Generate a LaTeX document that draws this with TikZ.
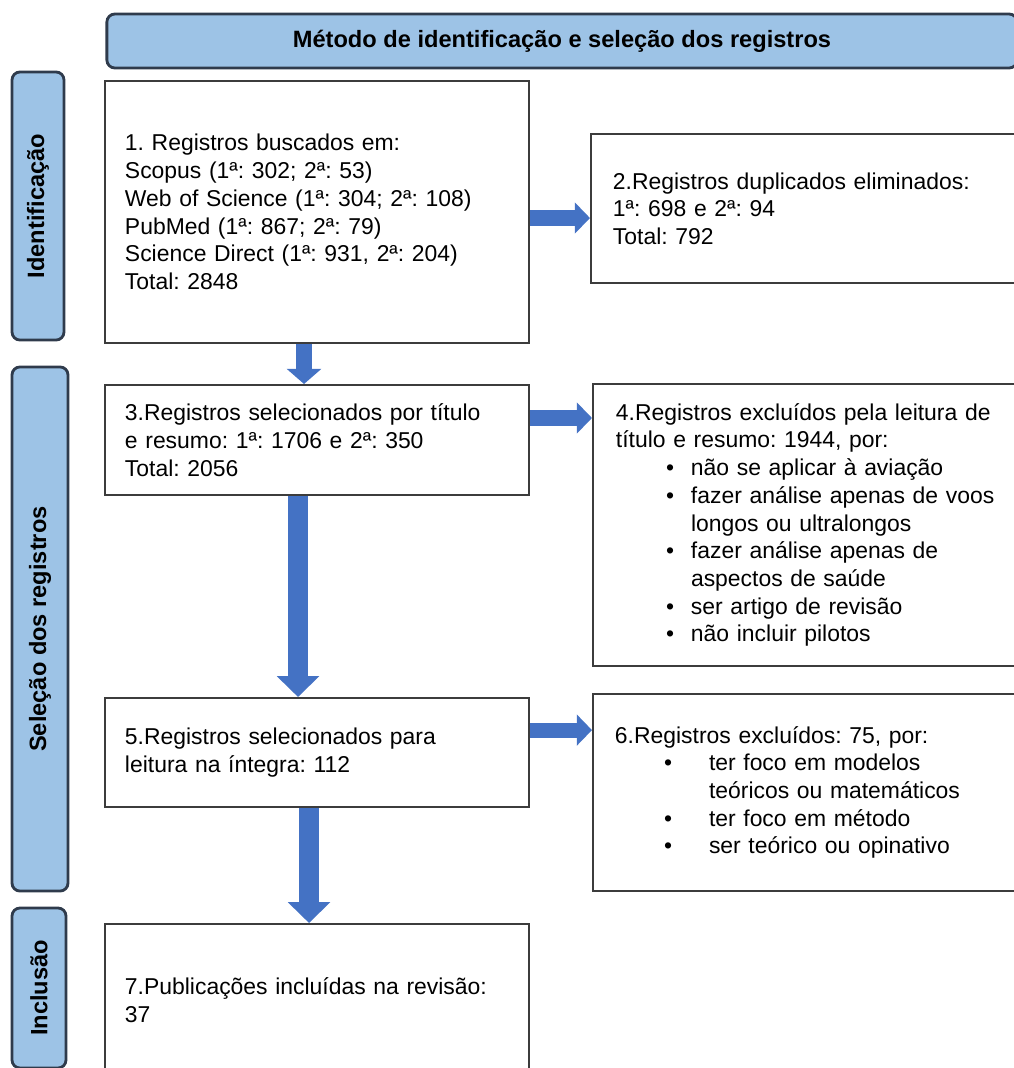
\documentclass[tikz,border=0pt]{standalone}
\usepackage{fontspec}
\setmainfont{Liberation Sans}
\usetikzlibrary{arrows.meta,positioning}
\frenchspacing

\definecolor{stageblue}{HTML}{9DC3E6}
\definecolor{stageedge}{HTML}{2F3B4C}
\definecolor{flowblue}{HTML}{4472C4}
\definecolor{boxedge}{HTML}{3C3C3C}

\newcommand\boxfont{\fontsize{16.3}{19.7}\selectfont}
\newcommand\stagefont{\fontsize{16.8}{19}\selectfont\bfseries}
% bullet line: indent, gap to text, text
\newcommand\bitem[3]{\hspace*{#1}\makebox[#2][l]{\textbullet}#3}

\begin{document}
\begin{tikzpicture}[x=0.025cm, y=-0.025cm,
    stage/.style={draw=stageedge, fill=stageblue, line width=2pt,
        rounded corners=0.2cm, font=\stagefont, inner sep=0pt},
    recbox/.style={draw=boxedge, line width=1.4pt, anchor=north west,
        align=left, font=\boxfont, inner ysep=0pt},
    flow/.style={draw=flowblue, line width=0.42cm,
        -{Triangle[width=0.85cm, length=0.38cm]}},
    flow big/.style={draw=flowblue, line width=0.5cm,
        -{Triangle[width=1.03cm, length=0.52cm]}},
    flow side/.style={draw=flowblue, line width=0.38cm,
        -{Triangle[width=0.76cm, length=0.38cm]}}]

    \useasboundingbox (0,0) rectangle (1014,1068);

    % Header
    \node[stage, minimum width=22.75cm, minimum height=1.35cm]
        (head) at (562,41) {Método de identificação e seleção dos registros};

    % Stage labels on the left
    \node[stage, rotate=90, minimum width=6.7cm, minimum height=1.3cm]
        (ident) at (38,206) {Identificação};
    \node[stage, rotate=90, minimum width=13.1cm, minimum height=1.4cm]
        (selec) at (40,629) {Seleção dos registros};
    \node[stage, rotate=90, minimum width=4.0cm, minimum height=1.35cm]
        (inclu) at (39,988) {Inclusão};

    % Record boxes
    \node[recbox, inner xsep=0.5cm, text width=9.6cm, minimum height=6.55cm]
        (b1) at (104,80) {1. Registros buscados em:\\
        Scopus (1ª: 302; 2ª: 53)\\
        Web of Science (1ª: 304; 2ª: 108)\\
        PubMed (1ª: 867; 2ª: 79)\\
        Science Direct (1ª: 931, 2ª: 204)\\
        Total: 2848};
    \node[recbox, inner xsep=0.55cm, text width=9.9cm, minimum height=3.725cm]
        (b2) at (590,133) {2.Registros duplicados eliminados:\\
        1ª: 698 e 2ª: 94\\
        Total: 792};
    \node[recbox, inner xsep=0.5cm, text width=9.6cm, minimum height=2.75cm]
        (b3) at (104,384) {3.Registros selecionados por título\\
        e resumo: 1ª: 1706 e 2ª: 350\\
        Total: 2056};
    \node[recbox, inner xsep=0.575cm, text width=9.8cm, minimum height=7.05cm]
        (b4) at (592,383) {4.Registros excluídos pela leitura de\\
        título e resumo: 1944, por:\\
        \bitem{1.25cm}{0.625cm}{não se aplicar à aviação}\\
        \bitem{1.25cm}{0.625cm}{fazer análise apenas de voos}\\
        \hspace*{1.875cm}longos ou ultralongos\\
        \bitem{1.25cm}{0.625cm}{fazer análise apenas de}\\
        \hspace*{1.875cm}aspectos de saúde\\
        \bitem{1.25cm}{0.625cm}{ser artigo de revisão}\\
        \bitem{1.25cm}{0.625cm}{não incluir pilotos}};
    \node[recbox, inner xsep=0.5cm, text width=9.6cm, minimum height=2.725cm]
        (b5) at (104,697) {5.Registros selecionados para\\
        leitura na íntegra: 112};
    \node[recbox, inner xsep=0.55cm, text width=9.85cm, minimum height=4.925cm]
        (b6) at (592,693) {6.Registros excluídos: 75, por:\\
        \bitem{1.225cm}{1.125cm}{ter foco em modelos}\\
        \hspace*{2.35cm}teóricos ou matemáticos\\
        \bitem{1.225cm}{1.125cm}{ter foco em método}\\
        \bitem{1.225cm}{1.125cm}{ser teórico ou opinativo}};
    \node[recbox, inner xsep=0.5cm, text width=9.6cm, minimum height=3.8cm]
        (b7) at (104,923) {7.Publicações incluídas na revisão:\\
        37};

    % Flow arrows
    \draw[flow] ([xshift=-0.325cm]b1.south) -- ([xshift=-0.325cm]b1.south |- b3.north);
    \draw[flow big] ([xshift=-0.475cm]b3.south) -- ([xshift=-0.475cm]b3.south |- b5.north);
    \draw[flow big] ([xshift=-0.2cm]b5.south) -- ([xshift=-0.2cm]b5.south |- b7.north);
    \draw[flow side] ([yshift=-0.15cm]b1.east) -- ([yshift=-0.15cm]b1.east -| b2.west);
    \draw[flow side] ([yshift=0.55cm]b3.east) -- ([yshift=0.55cm]b3.east -| b4.west);
    \draw[flow side] ([yshift=0.56cm]b5.east) -- ([yshift=0.56cm]b5.east -| b6.west);
\end{tikzpicture}
\end{document}
